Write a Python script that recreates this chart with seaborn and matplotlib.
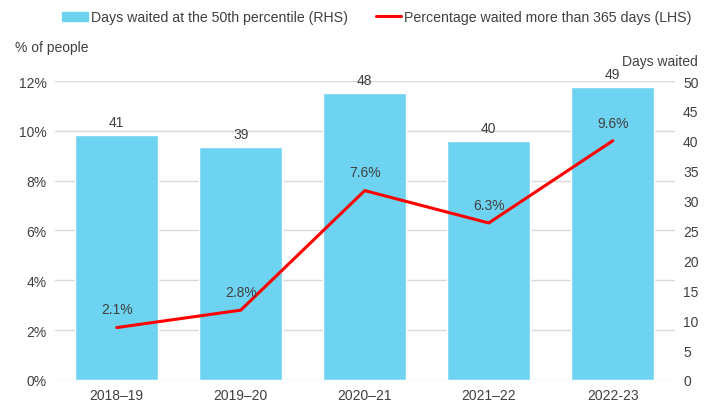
import pandas as pd
import seaborn as sns
import matplotlib.pyplot as plt
from matplotlib.lines import Line2D
from matplotlib.patches import Patch

years = ["2018–19", "2019–20", "2020–21", "2021–22", "2022-23"]
days_50th = [41, 39, 48, 40, 49]
pct_over_365 = [2.1, 2.8, 7.6, 6.3, 9.6]

df = pd.DataFrame({"year": years, "days": days_50th, "pct": pct_over_365})

sns.set_style("white")
plt.rcParams['font.family'] = ['Liberation Sans', 'DejaVu Sans']
text_col = "#404040"
bar_col = "#6DD3F0"
line_col = "#FF0000"

fig = plt.figure(figsize=(7.11, 4.10), dpi=100)
ax1 = fig.add_axes([0.077, 0.071, 0.872, 0.729])
ax2 = ax1.twinx()

# bars on the right axis (days)
sns.barplot(x="year", y="days", data=df, ax=ax2, color=bar_col,
            width=0.67, saturation=1, zorder=2)
# gridlines follow the left (%) ticks but sit behind the bars
for p in range(0, 13, 2):
    ax2.axhline(p * 50 / 12, color="#D9D9D9", lw=1, zorder=0)
for i, v in enumerate(days_50th):
    ax2.text(i, v + 1.0, str(v), ha="center", va="bottom", fontsize=10, color=text_col)

# line on the left axis (%)
ax1.set_zorder(ax2.get_zorder() + 1)
ax1.patch.set_visible(False)
sns.lineplot(x=list(range(len(years))), y=pct_over_365, ax=ax1, color=line_col, lw=2.2)
for i, v in enumerate(pct_over_365):
    ax1.annotate(f"{v:.1f}%", (i, v), xytext=(0, 8), textcoords="offset points",
                 ha="center", va="bottom", fontsize=10, color=text_col)

ax1.set_xlim(-0.5, 4.5)
ax1.set_ylim(0, 12)
ax2.set_ylim(0, 50)
ax1.set_yticks(range(0, 13, 2))
ax1.set_yticklabels([f"{t}%" for t in range(0, 13, 2)])
ax2.set_yticks(range(0, 51, 5))
ax1.set_xticks(range(len(years)))
ax1.set_xticklabels(years)
for ax in (ax1, ax2):
    ax.set_xlabel("")
    ax.set_ylabel("")
    ax.tick_params(length=0, labelsize=10, labelcolor=text_col, pad=6)
    for s in ax.spines.values():
        s.set_visible(False)
ax2.tick_params(axis="x", labelbottom=False)

fig.text(0.021, 0.883, "% of people", fontsize=10, color=text_col, va="center")
fig.text(0.981, 0.849, "Days waited", fontsize=10, color=text_col, va="center", ha="right")

handles = [Patch(color=bar_col), Line2D([0], [0], color=line_col, lw=2.2)]
labels = ["Days waited at the 50th percentile (RHS)", "Percentage waited more than 365 days (LHS)"]
fig.legend(handles, labels, loc="center", bbox_to_anchor=(0.53, 0.955), ncol=2,
           frameon=False, fontsize=10.2, handlelength=1.8, handleheight=0.7,
           handletextpad=0.2, columnspacing=2.0, labelcolor=text_col)

fig.savefig("out.png", dpi=100)
